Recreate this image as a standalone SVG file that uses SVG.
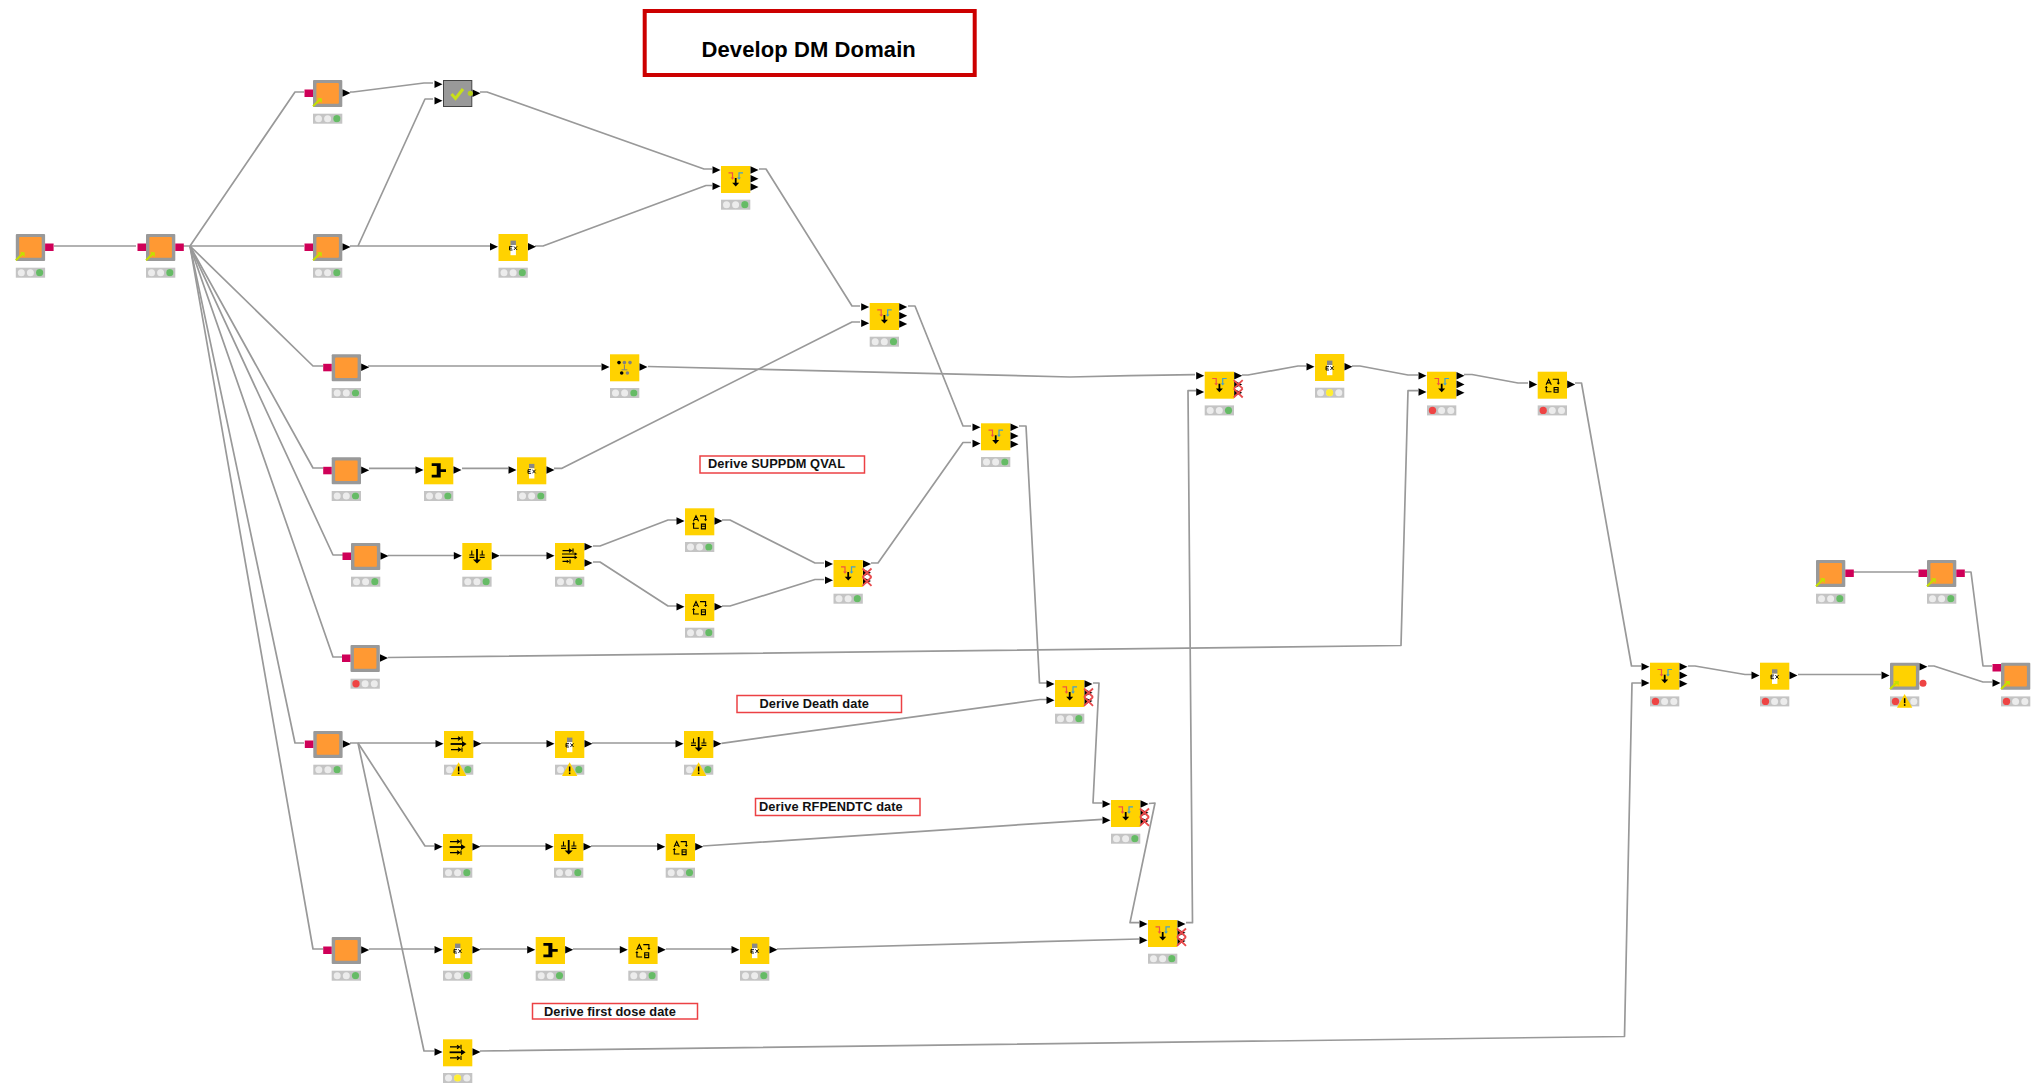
<svg xmlns="http://www.w3.org/2000/svg" width="2031" height="1084" viewBox="0 0 2031 1084">
<style>
.wire{fill:none;stroke:#999;stroke-width:1.7;stroke-linejoin:round}
.note{fill:#fff;stroke:#ec4144;stroke-width:1.5}
.nt{font-family:"Liberation Sans",Arial,sans-serif;font-weight:700;font-size:12.8px;letter-spacing:.08px;fill:#111}
.title{font-family:"Liberation Sans",Arial,sans-serif;font-weight:700;font-size:22px;letter-spacing:.1px;fill:#000}
.ik{fill:none;stroke:#000;stroke-width:1.1}
.ib{fill:#000;stroke:none}
</style>
<defs>
<rect id="y" width="29.3" height="27" fill="#ffd200"/>
<g id="m"><rect width="29.3" height="27" rx="1" fill="#999"/><rect x="3.4" y="3.1" width="22.5" height="20.7" rx="1" fill="#ff9933"/></g>
<g id="my"><rect width="29.3" height="27" rx="1" fill="#999"/><rect x="3.4" y="3.1" width="22.5" height="20.7" rx="1" fill="#ffd200"/></g>
<g id="lnk"><path d="M0 26.3L7.5 19" stroke="#c5e000" stroke-width="2" fill="none"/><path d="M4 18.3H8.8V23Z" fill="#c5e000"/></g>
<path id="pi" d="M-8.5-3.8L-.5 0L-8.5 3.8Z" fill="#000"/>
<path id="po" d="M29.5-3.8L37.5 0L29.5 3.8Z" fill="#000"/>
<g id="st"><rect y="33.7" width="29.3" height="10" fill="#c4c4c4"/><circle cx="5.5" cy="38.7" r="3.5" fill="#ececec"/><circle cx="14.6" cy="38.7" r="3.5" fill="#ececec"/><circle cx="23.8" cy="38.7" r="3.5" fill="#ececec"/></g>
<g id="st-g"><use href="#st"/><circle cx="23.8" cy="38.7" r="3.6" fill="#66bb66"/></g>
<g id="st-r"><use href="#st"/><circle cx="5.5" cy="38.7" r="3.7" fill="#ee4444"/></g>
<g id="st-y"><use href="#st"/><circle cx="14.6" cy="38.7" r="3.6" fill="#ffee33"/></g>
<g id="warn"><path d="M14.6 31.3L22.3 45H7Z" fill="#ffd200"/><rect x="13.9" y="35.5" width="1.5" height="5" fill="#000"/><rect x="13.9" y="41.5" width="1.5" height="1.6" fill="#000"/></g>
<g id="ic-j"><path d="M7.5 6.8H11.5V12" fill="none" stroke="#ee5544" stroke-width="1.2"/><path d="M9.6 11.5H13.4L11.5 13.8Z" fill="#ee5544"/><path d="M22 6.8H18V12" fill="none" stroke="#44a0cc" stroke-width="1.2"/><path d="M16.1 11.5H19.9L18 13.8Z" fill="#44a0cc"/><path d="M14.7 12V18" stroke="#000" stroke-width="1.8"/><path d="M11.2 16.8H18.2L14.7 20.6Z" class="ib"/></g>
<g id="ic-fx"><rect x="12" y="6.6" width="5.4" height="4.4" fill="#888"/><rect x="12" y="11" width="5.4" height="10.2" fill="#fff"/><path d="M14 12.4H11V16H14M11 14.2H13.4M15.4 12.4L18.6 16M18.6 12.4L15.4 16" fill="none" stroke="#000" stroke-width=".9"/></g>
<g id="ic-ab"><path class="ik" d="M8.4 13L11 7.5L13.6 13M9.4 11.2H12.6M15 7.6H20.6V11.5M8.6 15V20H13.8M16.4 15.8H20.4V20.6H16.4ZM16.4 18H20.4"/><path class="ib" d="M19 11H22.2L20.6 13ZM7 16H10.2L8.6 14Z"/></g>
<path id="ic-h" class="ib" d="M7.7 6H16.7V12H22V14.7H16.7V20.2H7.7V17.4H12.7V8.8H7.7Z"/>
<g id="ic-d"><path d="M14.7 6V18" stroke="#000" stroke-width="1.8"/><path d="M10.7 16.5H18.7L14.7 20.6Z" class="ib"/><path class="ik" d="M7 12H12M7 14.4H12M9.5 7.5V11.5M17.4 12H22.4M17.4 14.4H22.4M19.9 7.5V11.5"/></g>
<g id="ic-f"><path class="ik" d="M7 7.6H17M14 5.8L16.5 7.6L14 9.4M18 5.4V9.8M7 18.6H17M14 16.8L16.5 18.6L14 20.4M18 16.4V20.8"/><path d="M6.6 13H19" stroke="#000" stroke-width="1.8"/><path class="ib" d="M18 10L22.6 13L18 16Z"/></g>
<g id="ic-s"><path class="ik" d="M7.5 7.6H17M18 5.4V9.8M14 6L16.5 7.6L14 9.2M7 11H21M7 14.4H21M7.5 18.4H12.5M15 16.4V20.4"/><path class="ib" d="M19.6 9.2L22.4 11L19.6 12.8ZM19.6 12.6L22.4 14.4L19.6 16.2ZM11.8 16.8L14.4 18.4L11.8 20Z"/></g>
<g id="ic-sp"><circle cx="9" cy="8.3" r="1.8" fill="#000"/><circle cx="14.4" cy="8.3" r="1.8" fill="#808080"/><circle cx="20" cy="8.3" r="1.8" fill="#808080"/><circle cx="11.7" cy="18.7" r="1.8" fill="#000"/><circle cx="17.4" cy="18.7" r="1.8" fill="#808080"/><path d="M14.4 10.5V15.5M11.5 15.5H17.4" stroke="#808080" stroke-width="1" fill="none"/></g>
<g id="xx"><path d="M29 8.5L38 17M38 8.5L29 17M29 17L38 25.8M38 17L29 25.8" fill="none" stroke="#e84a4c" stroke-width="1.8"/></g>
<g id="in2"><use href="#pi" y="4"/><use href="#pi" y="20.3"/></g>
<g id="ou3"><use href="#po" y="4"/><use href="#po" y="12.7"/><use href="#po" y="21"/></g>
<g id="ou1x"><use href="#po" y="4"/><use href="#po" y="12.7"/><use href="#po" y="21"/><use href="#xx"/></g>
<g id="io"><use href="#pi" y="12.7"/><use href="#po" y="12.7"/></g>
<g id="mio"><rect x="-8.5" y="9.5" width="8.5" height="7.5" fill="#cf0058"/><use href="#po" y="13"/></g>
<g id="mpp"><rect x="-8.5" y="9.5" width="8.5" height="7.5" fill="#cf0058"/><rect x="29.3" y="9.5" width="8.5" height="7.5" fill="#cf0058"/></g>
</defs>
<rect width="2031" height="1084" fill="#fff"/>

<g id="connectors">
<polyline class="wire" points="54,246 136,246"/>
<polyline class="wire" points="183,246 190,246 295,92 304,92"/>
<polyline class="wire" points="190,246 304,246"/>
<polyline class="wire" points="190,246 313,366 323,366"/>
<polyline class="wire" points="190,246 313,468 323,468"/>
<polyline class="wire" points="190,246 333,555 343,555"/>
<polyline class="wire" points="190,246 333,657 343,657"/>
<polyline class="wire" points="190,246 295,743 304,743"/>
<polyline class="wire" points="190,246 313,949 323,949"/>
<polyline class="wire" points="350,92 353,92 424,83 433,83"/>
<polyline class="wire" points="350,246 490,246"/>
<polyline class="wire" points="358,246 425,99 433,99"/>
<polyline class="wire" points="480,92 487,92 704,169 712,169"/>
<polyline class="wire" points="535,246 543,246 706,185.5 712,185.5"/>
<polyline class="wire" points="759,169 766,169 852,306 860,306"/>
<polyline class="wire" points="368,366 601,366"/>
<polyline class="wire" points="648,366.5 1070,377 1130,375.7 1195,374.7"/>
<polyline class="wire" points="369,468.3 416,468.3"/>
<polyline class="wire" points="462,468.3 508,468.3"/>
<polyline class="wire" points="554,468.3 562,468.3 852,322 860,322"/>
<polyline class="wire" points="908,306 915,306 963,426 971,426"/>
<polyline class="wire" points="388,555.5 454,555.5"/>
<polyline class="wire" points="500,555.5 547,555.5"/>
<polyline class="wire" points="593,546 600,546 668,520 677,520"/>
<polyline class="wire" points="593,562 600,562 668,606 677,606"/>
<polyline class="wire" points="722,520 730,520 815,563 824,563"/>
<polyline class="wire" points="722,606 730,606 815,579.5 824,579.5"/>
<polyline class="wire" points="871,563 878,563 963,442.5 971,442.5"/>
<polyline class="wire" points="1019,426 1026,426 1039.5,683 1047,683"/>
<polyline class="wire" points="388,657.5 1401,645.5 1408,390.7 1418,390.7"/>
<polyline class="wire" points="350,743 436,743"/>
<polyline class="wire" points="358,743 425,846 434,846"/>
<polyline class="wire" points="358,743 424,1051 434,1051"/>
<polyline class="wire" points="481,743 547,743"/>
<polyline class="wire" points="592,743 676,743"/>
<polyline class="wire" points="721.5,743.3 1040,699.5 1047,699.5"/>
<polyline class="wire" points="480,846 546,846"/>
<polyline class="wire" points="591,846 658,846"/>
<polyline class="wire" points="703,846 1040,823.3 1102,819.3"/>
<polyline class="wire" points="1093,683 1099,683 1093,803 1102,803"/>
<polyline class="wire" points="369,949 434,949"/>
<polyline class="wire" points="480,949 527,949"/>
<polyline class="wire" points="573,949 620,949"/>
<polyline class="wire" points="666,949 732,949"/>
<polyline class="wire" points="777,949 1040,941.7 1139,939"/>
<polyline class="wire" points="1149,803.5 1155,803 1130,922.7 1139,922.7"/>
<polyline class="wire" points="1186,922.7 1192.5,922.7 1188,390.7 1196,390.7"/>
<polyline class="wire" points="1242,375 1248,375 1298,366 1306,366"/>
<polyline class="wire" points="1352,366 1360,366 1408,375 1418,375"/>
<polyline class="wire" points="1464,374.5 1472,374.5 1518,383 1528,383"/>
<polyline class="wire" points="1575,383 1581.5,383 1631.5,666 1641,666"/>
<polyline class="wire" points="480,1051 1624.5,1036.5 1632,683 1641,683"/>
<polyline class="wire" points="1688,666 1695,666 1745,674.5 1752,674.5"/>
<polyline class="wire" points="1798,674.5 1881,674.5"/>
<polyline class="wire" points="1928,666 1934,666 1983,682 1992,682"/>
<polyline class="wire" points="1853,572 1918,572"/>
<polyline class="wire" points="1965,572 1971,572 1983,666 1992,666"/>
</g>

<g id="n1" transform="translate(15.8 234)"><use href="#m"/><use href="#lnk"/><rect x="29.3" y="9.5" width="8.5" height="7.5" fill="#cf0058"/><use href="#st-g"/></g>
<g id="n2" transform="translate(146 234)"><use href="#m"/><use href="#lnk"/><use href="#mpp"/><use href="#st-g"/></g>
<g id="n3" transform="translate(313 80)"><use href="#m"/><use href="#lnk"/><use href="#mio"/><use href="#st-g"/></g>
<g id="n4" transform="translate(313 234)"><use href="#m"/><use href="#lnk"/><use href="#mio"/><use href="#st-g"/></g>
<g id="check" transform="translate(443 80)"><rect x=".5" y=".5" width="28.3" height="26" fill="#999" stroke="#444"/><path d="M8.5 14L12.5 18.5L20 9" fill="none" stroke="#c8e01a" stroke-width="3"/><use href="#pi" y="4.3"/><use href="#pi" y="20.7"/><use href="#po" y="13.3"/><circle cx="27.3" cy="13.3" r="2.6" fill="#b8d020"/></g>
<g id="ex1" transform="translate(498.5 234)"><use href="#y"/><use href="#ic-fx"/><use href="#io"/><use href="#st-g"/></g>
<g id="j1" transform="translate(721 166)"><use href="#y"/><use href="#ic-j"/><use href="#in2"/><use href="#ou3"/><use href="#st-g"/></g>
<g id="j2" transform="translate(869.7 303)"><use href="#y"/><use href="#ic-j"/><use href="#in2"/><use href="#ou3"/><use href="#st-g"/></g>
<g id="j3" transform="translate(981 423.3)"><use href="#y"/><use href="#ic-j"/><use href="#in2"/><use href="#ou3"/><use href="#st-g"/></g>
<g id="m5" transform="translate(331.7 354.3)"><use href="#m"/><use href="#mio"/><use href="#st-g"/></g>
<g id="sp1" transform="translate(610 354.3)"><use href="#y"/><use href="#ic-sp"/><use href="#io"/><use href="#st-g"/></g>
<g id="m6" transform="translate(331.7 457.3)"><use href="#m"/><use href="#mio"/><use href="#st-g"/></g>
<g id="h1" transform="translate(424 457.3)"><use href="#y"/><use href="#ic-h"/><use href="#io"/><use href="#st-g"/></g>
<g id="ex2" transform="translate(517 457.3)"><use href="#y"/><use href="#ic-fx"/><use href="#io"/><use href="#st-g"/></g>
<g id="m7" transform="translate(351 543)"><use href="#m"/><use href="#mio"/><use href="#st-g"/></g>
<g id="d1" transform="translate(462.3 543)"><use href="#y"/><use href="#ic-d"/><use href="#io"/><use href="#st-g"/></g>
<g id="s1" transform="translate(555 543)"><use href="#y"/><use href="#ic-s"/><use href="#pi" y="12.7"/><use href="#po" y="3.7"/><use href="#po" y="20"/><use href="#st-g"/></g>
<g id="ab1" transform="translate(685 508.3)"><use href="#y"/><use href="#ic-ab"/><use href="#io"/><use href="#st-g"/></g>
<g id="ab2" transform="translate(685 594)"><use href="#y"/><use href="#ic-ab"/><use href="#io"/><use href="#st-g"/></g>
<g id="jx" transform="translate(833.5 560)"><use href="#y"/><use href="#ic-j"/><use href="#in2"/><use href="#ou1x"/><use href="#st-g"/></g>
<g id="m8" transform="translate(350.5 645)"><use href="#m"/><use href="#mio"/><use href="#st-r"/></g>
<g id="m9" transform="translate(313.3 731)"><use href="#m"/><use href="#mio"/><use href="#st-g"/></g>
<g id="f1" transform="translate(444 731)"><use href="#y"/><use href="#ic-f"/><use href="#io"/><use href="#st-g"/><use href="#warn"/></g>
<g id="ex3" transform="translate(555 731)"><use href="#y"/><use href="#ic-fx"/><use href="#io"/><use href="#st-g"/><use href="#warn"/></g>
<g id="d2" transform="translate(684 731)"><use href="#y"/><use href="#ic-d"/><use href="#io"/><use href="#st-g"/><use href="#warn"/></g>
<g id="jd" transform="translate(1055 680)"><use href="#y"/><use href="#ic-j"/><use href="#in2"/><use href="#ou1x"/><use href="#st-g"/></g>
<g id="f2" transform="translate(443 834)"><use href="#y"/><use href="#ic-f"/><use href="#io"/><use href="#st-g"/></g>
<g id="d3" transform="translate(554 834)"><use href="#y"/><use href="#ic-d"/><use href="#io"/><use href="#st-g"/></g>
<g id="ab3" transform="translate(665.7 834)"><use href="#y"/><use href="#ic-ab"/><use href="#io"/><use href="#st-g"/></g>
<g id="jr" transform="translate(1111 800)"><use href="#y"/><use href="#ic-j"/><use href="#in2"/><use href="#ou1x"/><use href="#st-g"/></g>
<g id="m10" transform="translate(331.7 937)"><use href="#m"/><use href="#mio"/><use href="#st-g"/></g>
<g id="ex4" transform="translate(443 937)"><use href="#y"/><use href="#ic-fx"/><use href="#io"/><use href="#st-g"/></g>
<g id="h2" transform="translate(535.7 937)"><use href="#y"/><use href="#ic-h"/><use href="#io"/><use href="#st-g"/></g>
<g id="ab4" transform="translate(628.3 937)"><use href="#y"/><use href="#ic-ab"/><use href="#io"/><use href="#st-g"/></g>
<g id="ex5" transform="translate(740 937)"><use href="#y"/><use href="#ic-fx"/><use href="#io"/><use href="#st-g"/></g>
<g id="jf" transform="translate(1148 920)"><use href="#y"/><use href="#ic-j"/><use href="#in2"/><use href="#ou1x"/><use href="#st-g"/></g>
<g id="f3" transform="translate(443 1039.3)"><use href="#y"/><use href="#ic-f"/><use href="#io"/><use href="#st-y"/></g>
<g id="jt" transform="translate(1204.7 371.7)"><use href="#y"/><use href="#ic-j"/><use href="#in2"/><use href="#ou1x"/><use href="#st-g"/></g>
<g id="ex6" transform="translate(1315 354)"><use href="#y"/><use href="#ic-fx"/><use href="#io"/><use href="#st-y"/></g>
<g id="jr2" transform="translate(1427 371.7)"><use href="#y"/><use href="#ic-j"/><use href="#in2"/><use href="#ou3"/><use href="#st-r"/></g>
<g id="ab5" transform="translate(1537.7 371.7)"><use href="#y"/><use href="#ic-ab"/><use href="#io"/><use href="#st-r"/></g>
<g id="jb" transform="translate(1650 662.7)"><use href="#y"/><use href="#ic-j"/><use href="#in2"/><use href="#ou3"/><use href="#st-r"/></g>
<g id="ex7" transform="translate(1760 662.7)"><use href="#y"/><use href="#ic-fx"/><use href="#io"/><use href="#st-r"/></g>
<g id="my1" transform="translate(1890 662.7)"><use href="#my"/><use href="#lnk"/><use href="#pi" y="12.7"/><use href="#po" y="4"/><circle cx="33" cy="20.5" r="3.5" fill="#ee4444"/><use href="#st-r"/><use href="#warn"/></g>
<g id="ma" transform="translate(1816 560)"><use href="#m"/><use href="#lnk"/><rect x="29.3" y="9.5" width="8.5" height="7.5" fill="#cf0058"/><use href="#st-g"/></g>
<g id="mb" transform="translate(1927 560)"><use href="#m"/><use href="#lnk"/><use href="#mpp"/><use href="#st-g"/></g>
<g id="mz" transform="translate(2001 662.7)"><use href="#m"/><use href="#lnk"/><rect x="-8.5" y="1.3" width="8.5" height="7.5" fill="#cf0058"/><use href="#pi" y="20.3"/><use href="#st-r"/></g>

<g id="title"><rect x="644.7" y="11" width="330" height="64" fill="#fff" stroke="#cc0000" stroke-width="4"/><text class="title" x="701.5" y="57.3">Develop DM Domain</text></g>
<g id="note1"><rect class="note" x="700" y="456" width="164.5" height="17"/><text class="nt" x="708" y="468">Derive SUPPDM QVAL</text></g>
<g id="note2"><rect class="note" x="737" y="695.5" width="164.5" height="17"/><text class="nt" x="759.5" y="708.3">Derive Death date</text></g>
<g id="note3"><rect class="note" x="755.5" y="798.5" width="164.5" height="17"/><text class="nt" x="759" y="811">Derive RFPENDTC date</text></g>
<g id="note4"><rect class="note" x="532.5" y="1003.5" width="165" height="15.5"/><text class="nt" x="544" y="1016">Derive first dose date</text></g>
</svg>
